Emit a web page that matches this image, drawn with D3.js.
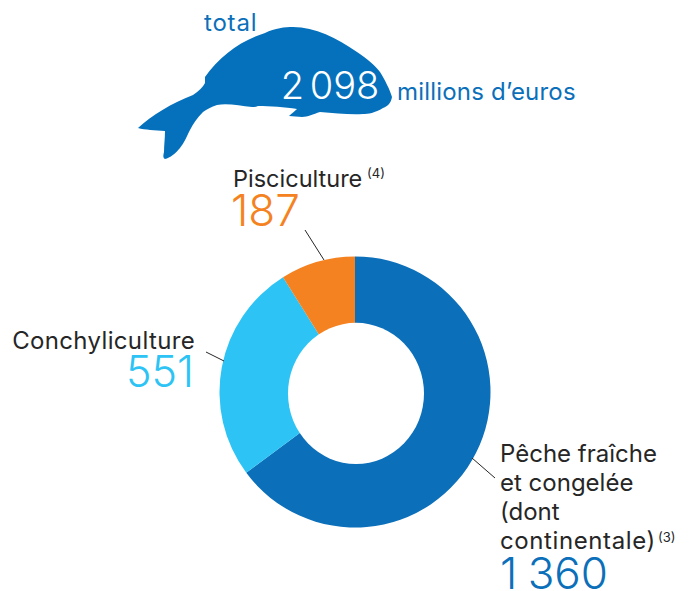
<!DOCTYPE html>
<html>
<head>
<meta charset="utf-8">
<script src="https://cdn.jsdelivr.net/npm/d3@7"></script>
<style>
  html, body { margin: 0; padding: 0; background: #fff; }
  svg { display: block; }
  text { font-family: Inter, Lato, sans-serif; }
</style>
</head>
<body>
<svg class="chart"></svg>
<script>
var categories = ["Pêche fraîche et congelée (dont continentale)", "Conchyliculture", "Pisciculture"];
var values = [1360, 551, 187];
var colors = ["#0b6fba", "#2dc4f5", "#f58220"];

var width = 690, height = 591;
var cx = 355, cy = 392, outer = 135.5, inner = 60;
var ink = "#262626";

var svg = d3.select(".chart").attr("width", width).attr("height", height);

// whale silhouette
var whale = "M138 128 C152 115 172 103 193 95 C199 91 203 87 205 83 L205 77 " +
  "C220 56 240 41 265 33 C275 28 285 27 293 27 C315 27 337 38 357 52 C367 59 375 65 380 72 " +
  "C385 80 390 90 392 97 C391 103 388 106 383 108 C375 113 368 114 363 114 C350 115 335 113 320 112 " +
  "C313 114 308 117 302 117 C298 117 293 116 289 116 C292 113 295 111 297 109 C285 107 270 106 258 106 " +
  "C256 107 254 107 252 107 C240 106 228 103 217 105 C211 107 207 109 203 112 C197 118 193 124 190 130 " +
  "C186 138 184 143 180 148 C176 153 170 158 165 159 C163 158 163 156 164 152 C164 145 165 138 165 131 " +
  "C155 130 145 130 138 128 Z";

svg.append("path").attr("d", whale).attr("fill", "#0571bc");

var pie = d3.pie().sort(null);
var arc = d3.arc().innerRadius(inner).outerRadius(outer);

svg.append("g")
    .attr("transform", "translate(" + cx + "," + cy + ")")
  .selectAll("path")
  .data(pie(values))
  .enter().append("path")
    .attr("d", arc)
    .attr("fill", function(d, i) { return colors[i]; });

// the hole is not quite round or centred in the original
svg.append("ellipse")
    .attr("cx", 356)
    .attr("cy", 393.4)
    .attr("rx", 68)
    .attr("ry", 70.6)
    .attr("fill", "#fff");

// leader lines
var leaders = [[472, 458, 495, 478], [224, 361, 206, 352], [324, 260, 305, 230]];
svg.selectAll(".leader").data(leaders).enter().append("line")
    .attr("class", "leader")
    .attr("x1", function(d) { return d[0]; })
    .attr("y1", function(d) { return d[1]; })
    .attr("x2", function(d) { return d[2]; })
    .attr("y2", function(d) { return d[3]; })
    .attr("stroke", ink)
    .attr("stroke-width", 1);

function label(str, x, y, size, fill, weight, anchor, spacing, wordSpacing) {
  return svg.append("text")
    .attr("x", x)
    .attr("y", y)
    .attr("font-size", size)
    .attr("font-weight", weight || 400)
    .attr("text-anchor", anchor || "start")
    .attr("letter-spacing", spacing || 0)
    .attr("word-spacing", wordSpacing || 0)
    .attr("fill", fill)
    .text(str);
}

var fmt = function(v) { return d3.format(",")(v).replace(",", " "); };

label("total", 204, 31, 24, "#0b6fba", 400, "start", 0.8);
label(fmt(d3.sum(values)), 330, 99, 38, "#fff", 300, "middle", 0, -5);
label("millions d’euros", 397, 100, 24, "#0b6fba", 400, "start", 0.2);

label("Pisciculture", 233, 187, 23.5, ink);
label("(4)", 367, 178, 13, ink);
label(fmt(values[2]), 231, 226, 44, colors[2], 300);

label("Conchyliculture", 195, 349, 24, ink, 400, "end", 0.35);
label(fmt(values[1]), 194, 387, 43, colors[1], 300, "end");

label("Pêche fraîche", 500, 462, 24, ink);
label("et congelée", 500, 491, 24, ink);
label("(dont", 500, 520, 24, ink);
label("continentale)", 500, 549, 24, ink, 400, "start", 0.6);
label("(3)", 658, 542, 13, ink);
label(fmt(values[0]), 500, 589, 44, colors[0], 300, "start", 0, -2);
</script>
</body>
</html>
